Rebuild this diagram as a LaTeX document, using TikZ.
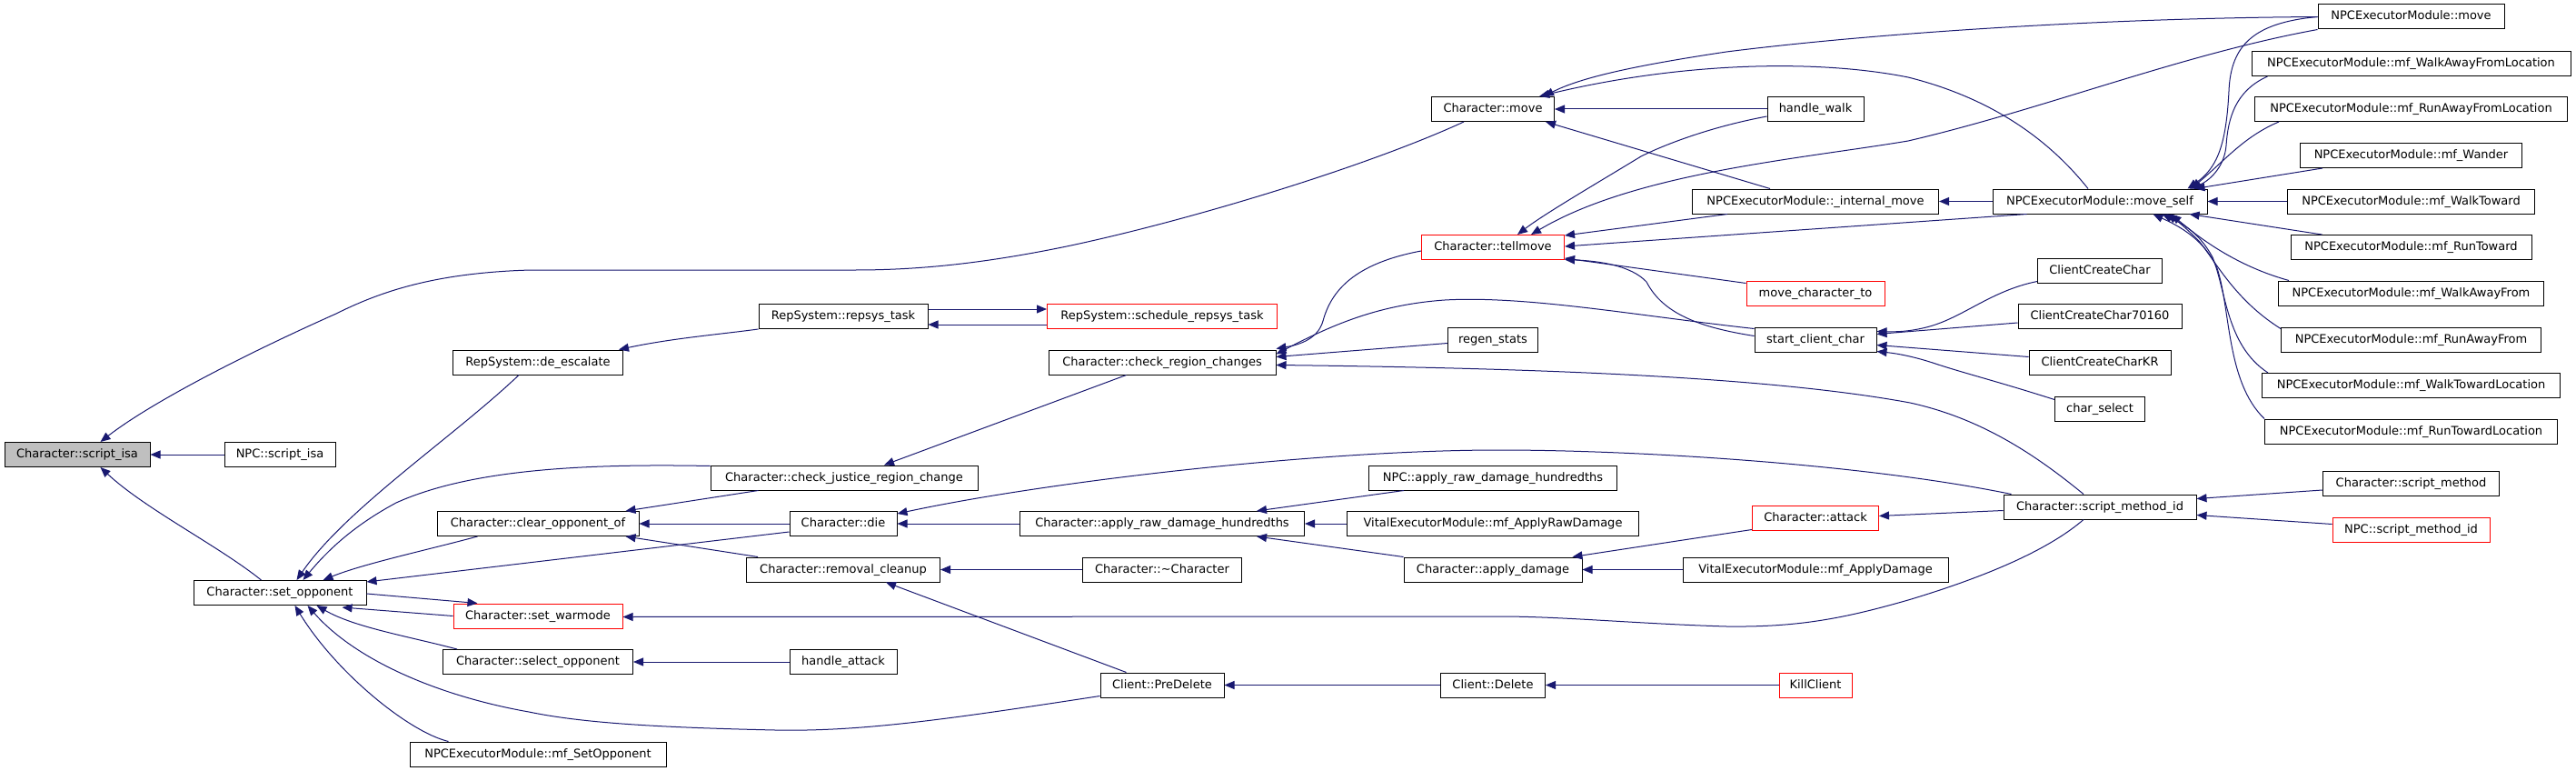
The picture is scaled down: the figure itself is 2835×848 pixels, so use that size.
\documentclass[tikz,border=0pt]{standalone}
\usepackage{fontspec}
\setmainfont{DejaVu Sans}
\usetikzlibrary{arrows.meta,calc}
\definecolor{mblue}{HTML}{191970}
\definecolor{nred}{HTML}{FF0000}
\definecolor{ngray}{HTML}{BFBFBF}
\begin{document}
\begin{tikzpicture}[x=1pt,y=-1pt,
  box/.style={draw=black, line width=1pt, inner sep=0pt, minimum height=27pt,
    text height=9.5pt, text depth=2.5pt, fill=white,
    font=\fontsize{13pt}{15pt}\selectfont},
  redbox/.style={box, draw=nred},
  e/.style={draw=mblue, line width=1pt, -{Triangle[length=11pt,width=9pt]}}]
\useasboundingbox (0,0) rectangle (2835,848);
% column 0/1
\node[box, minimum width=160pt, fill=ngray] (sisa) at (85,500) {Character::script\_isa};
\node[box, minimum width=122pt] (npcisa) at (308,500) {NPC::script\_isa};
\node[box, minimum width=190pt] (setopp) at (308,652) {Character::set\_opponent};
% column 2
\node[box, minimum width=187pt] (deesc) at (592,398.5) {RepSystem::de\_escalate};
\node[box, minimum width=222pt] (cleropp) at (592,576) {Character::clear\_opponent\_of};
\node[redbox, minimum width=186pt] (setwar) at (592,677.5) {Character::set\_warmode};
\node[box, minimum width=209pt] (selopp) at (592,728) {Character::select\_opponent};
\node[box, minimum width=282pt] (mfsetopp) at (592,829.5) {NPCExecutorModule::mf\_SetOpponent};
% column 3
\node[box, minimum width=186pt] (repsys) at (928,348) {RepSystem::repsys\_task};
\node[box, minimum width=294pt] (cjrc) at (929,525.5) {Character::check\_justice\_region\_change};
\node[box, minimum width=118pt] (die) at (928,576) {Character::die};
\node[box, minimum width=213pt] (remclean) at (928,626.5) {Character::removal\_cleanup};
\node[box, minimum width=118pt] (hattack) at (928,728) {handle\_attack};
% column 4
\node[redbox, minimum width=253pt] (schedule) at (1279,348) {RepSystem::schedule\_repsys\_task};
\node[box, minimum width=250pt] (crc) at (1279,398.5) {Character::check\_region\_changes};
\node[box, minimum width=313pt] (ardh) at (1279,576) {Character::apply\_raw\_damage\_hundredths};
\node[box, minimum width=175pt] (dtor) at (1279,626.5) {Character::\textasciitilde Character};
\node[box, minimum width=136pt] (predel) at (1279,753.5) {Client::PreDelete};
% column 5
\node[box, minimum width=135pt] (cmove) at (1643,120) {Character::move};
\node[redbox, minimum width=157pt] (tellmove) at (1643,272) {Character::tellmove};
\node[box, minimum width=99pt] (regen) at (1643,373.5) {regen\_stats};
\node[box, minimum width=273pt] (npcardh) at (1643,525.5) {NPC::apply\_raw\_damage\_hundredths};
\node[box, minimum width=321pt] (vardmg) at (1643,576) {VitalExecutorModule::mf\_ApplyRawDamage};
\node[box, minimum width=196pt] (applydmg) at (1643,626.5) {Character::apply\_damage};
\node[box, minimum width=115pt] (cdelete) at (1643,753.5) {Client::Delete};
% column 6
\node[box, minimum width=106pt] (hwalk) at (1998,120) {handle\_walk};
\node[box, minimum width=271pt] (imove) at (1998,221.5) {NPCExecutorModule::\_internal\_move};
\node[redbox, minimum width=152pt] (mcto) at (1998,322.5) {move\_character\_to};
\node[box, minimum width=134pt] (scc) at (1998,373.5) {start\_client\_char};
\node[redbox, minimum width=139pt] (attack) at (1998,569.5) {Character::attack};
\node[box, minimum width=292pt] (vadmg) at (1998,626.5) {VitalExecutorModule::mf\_ApplyDamage};
\node[redbox, minimum width=80pt] (killc) at (1998,753.5) {KillClient};
% column 7
\node[box, minimum width=236pt] (moveself) at (2311,221.5) {NPCExecutorModule::move\_self};
\node[box, minimum width=137pt] (ccc) at (2311,297.5) {ClientCreateChar};
\node[box, minimum width=180pt] (ccc7) at (2311,348) {ClientCreateChar70160};
\node[box, minimum width=156pt] (ccckr) at (2311,398.5) {ClientCreateCharKR};
\node[box, minimum width=99pt] (charsel) at (2311,449.5) {char\_select};
\node[box, minimum width=212pt] (smid) at (2311,557.5) {Character::script\_method\_id};
% column 8
\node[box, minimum width=205pt] (npcmove) at (2653.5,18.5) {NPCExecutorModule::move};
\node[box, minimum width=351pt] (wafl) at (2653.5,70) {NPCExecutorModule::mf\_WalkAwayFromLocation};
\node[box, minimum width=344pt] (rafl) at (2653.5,120) {NPCExecutorModule::mf\_RunAwayFromLocation};
\node[box, minimum width=244pt] (wander) at (2653.5,171) {NPCExecutorModule::mf\_Wander};
\node[box, minimum width=272pt] (wtow) at (2653.5,221.5) {NPCExecutorModule::mf\_WalkToward};
\node[box, minimum width=265pt] (rtow) at (2653.5,272) {NPCExecutorModule::mf\_RunToward};
\node[box, minimum width=292pt] (waf) at (2653.5,322.5) {NPCExecutorModule::mf\_WalkAwayFrom};
\node[box, minimum width=286pt] (raf) at (2653.5,373.5) {NPCExecutorModule::mf\_RunAwayFrom};
\node[box, minimum width=328pt] (wtl) at (2653.5,424) {NPCExecutorModule::mf\_WalkTowardLocation};
\node[box, minimum width=322pt] (rtl) at (2653.5,474.5) {NPCExecutorModule::mf\_RunTowardLocation};
\node[box, minimum width=194pt] (smeth) at (2653.5,532) {Character::script\_method};
\node[redbox, minimum width=173pt] (npcsmid) at (2653.5,582.5) {NPC::script\_method\_id};

% ---------- edges (caller -> callee) ----------
\draw[e] ($(cmove.south west)+(36,0)$) .. controls (1500,185) and (1300,245) .. (1169,272)
  .. controls (1080,290) and (1010,297) .. (941,297) -- (584,297)
  .. controls (480,300) and (420,320) .. (370,345)
  .. controls (280,385) and (170,440) .. ($(sisa.north west)+(106,0)$);
\draw[e] (npcisa.west) -- (sisa.east);
\draw[e] ($(setopp.north west)+(75,0)$) .. controls (240,600) and (160,560) .. ($(sisa.south west)+(106,0)$);
\draw[e] ($(deesc.south west)+(73,0)$) .. controls (500,480) and (380,560) .. ($(setopp.north west)+(114,0)$);
\draw[e] ($(cjrc.north west)+(0,1)$) .. controls (650,510) and (520,515) .. (436,553)
  .. controls (395,575) and (365,600) .. ($(setopp.north west)+(121,0)$);
\draw[e] ($(cleropp.south west)+(45,0)$) .. controls (470,605) and (400,620) .. ($(setopp.north west)+(143,0)$);
\draw[e] ($(die.west)+(0,9)$) -- ($(setopp.north east)+(0,2)$);
\draw[e] ($(setopp.east)+(0,1)$) -- ($(setwar.north west)+(27,0)$);
\draw[e] (setwar.west) -- ($(setopp.south east)+(-27,2)$);
\draw[e] ($(selopp.north west)+(16,0)$) .. controls (450,700) and (390,690) .. ($(setopp.south west)+(136,0)$);
\draw[e] ($(predel.south west)+(0,-2)$) .. controls (1050,790) and (950,805) .. (853,803)
  .. controls (720,800) and (640,795) .. (582,783)
  .. controls (480,765) and (390,725) .. ($(setopp.south west)+(126,0)$);
\draw[e] ($(mfsetopp.north west)+(43,0)$) .. controls (450,805) and (370,740) .. ($(setopp.south west)+(112,0)$);
\draw[e] ($(cjrc.south west)+(53,0)$) -- ($(cleropp.north east)+(-15,0)$);
\draw[e] (die.west) -- (cleropp.east);
\draw[e] ($(remclean.north west)+(13,0)$) -- ($(cleropp.south east)+(-15,0)$);
\draw[e] (repsys.south west) .. controls (790,368) and (740,372) .. ($(deesc.north east)+(-5,0)$);
\draw[e] ($(repsys.east)+(0,-8)$) -- ($(schedule.west)+(0,-8)$);
\draw[e] ($(schedule.west)+(0,9)$) -- ($(repsys.east)+(0,9)$);
\draw[e] ($(crc.south west)+(86,0)$) -- ($(cjrc.north)+(44,0)$);
\draw[e] ($(tellmove.west)+(0,4)$) .. controls (1490,290) and (1465,320) .. (1456,353)
  .. controls (1450,375) and (1425,380) .. ($(crc.north east)+(0,-1)$);
\draw[e] ($(scc.west)+(0,-12)$) .. controls (1800,347) and (1680,325) .. (1590,330)
  .. controls (1520,335) and (1470,355) .. ($(crc.east)+(0,-9)$);
\draw[e] ($(regen.west)+(0,4)$) -- ($(crc.east)+(0,-6)$);
\draw[e] ($(smid.north)+(-18,0)$) .. controls (2240,500) and (2180,460) .. (2102,443)
  .. controls (1950,415) and (1700,405) .. ($(crc.east)+(0,3)$);
\draw[e] (ardh.west) -- (die.east);
\draw[e] ($(smid.north west)+(9,0)$) .. controls (2050,510) and (1800,495) .. (1650,495)
  .. controls (1450,495) and (1150,530) .. ($(die.north east)+(0,3)$);
\draw[e] ($(npcardh.south west)+(39,0)$) -- ($(ardh.north east)+(-53,0)$);
\draw[e] (vardmg.west) -- (ardh.east);
\draw[e] (applydmg.north west) -- ($(ardh.south east)+(-53,0)$);
\draw[e] (dtor.west) -- (remclean.east);
\draw[e] ($(predel.north west)+(29,0)$) -- ($(remclean.south)+(47,0)$);
\draw[e] ($(smid.south)+(-18,0)$) .. controls (2260,600) and (2200,630) .. (2100,660)
  .. controls (2030,680) and (1980,690) .. (1900,689)
  .. controls (1800,686) and (1720,678) .. (1650,678) -- ($(setwar.east)+(0,1)$);
\draw[e] (hattack.west) -- (selopp.east);
\draw[e] (cdelete.west) -- (predel.east);
\draw[e] (killc.west) -- (cdelete.east);
\draw[e] ($(attack.south west)+(0,-1)$) -- ($(applydmg.north east)+(-11,0)$);
\draw[e] (vadmg.west) -- (applydmg.east);
\draw[e] ($(smid.west)+(0,4)$) -- ($(attack.east)+(0,-2)$);
\draw[e] ($(smeth.west)+(0,7)$) -- ($(smid.east)+(0,-9)$);
\draw[e] ($(npcsmid.west)+(0,-6)$) -- ($(smid.east)+(0,9)$);
% top part
\draw[e] (npcmove.west) .. controls (2300,20) and (2050,38) .. (1900,57)
  .. controls (1800,72) and (1740,85) .. ($(cmove.north east)+(-12,0)$);
\draw[e] ($(moveself.north)+(-13,0)$) .. controls (2260,160) and (2200,110) .. (2100,85)
  .. controls (2000,65) and (1850,68) .. ($(cmove.north east)+(-17,0)$);
\draw[e] (hwalk.west) -- (cmove.east);
\draw[e] ($(imove.north west)+(86,0)$) -- ($(cmove.south east)+(-10,0)$);
\draw[e] (npcmove.south west) .. controls (2400,60) and (2250,120) .. (2100,155)
  .. controls (1980,175) and (1800,190) .. ($(tellmove.north east)+(-37,0)$);
\draw[e] ($(hwalk.west)+(0,8)$) .. controls (1880,140) and (1830,160) .. (1806,172)
  .. controls (1760,200) and (1700,235) .. ($(tellmove.north east)+(-52,0)$);
\draw[e] ($(imove.south west)+(39,0)$) -- ($(tellmove.north east)+(0,1)$);
\draw[e] ($(moveself.south west)+(38,0)$) -- ($(tellmove.east)+(0,-1)$);
\draw[e] ($(mcto.north west)+(0,3)$) -- ($(tellmove.south east)+(0,-2)$);
\draw[e] ($(scc.west)+(0,-4)$) .. controls (1870,360) and (1830,345) .. (1812,310)
  .. controls (1795,292) and (1760,287) .. ($(tellmove.south east)+(0,-0.5)$);
\draw[e] (moveself.west) -- (imove.east);
% callers of move_self
\draw[e] (npcmove.west) .. controls (2480,25) and (2455,50) .. (2453,100)
  .. controls (2450,160) and (2440,185) .. ($(moveself.north east)+(-22,0)$);
\draw[e] ($(wafl.south west)+(18,0)$) .. controls (2460,100) and (2452,130) .. (2450,160)
  .. controls (2448,185) and (2430,200) .. ($(moveself.north east)+(-20,0)$);
\draw[e] ($(rafl.south west)+(27,0)$) .. controls (2470,150) and (2450,175) .. ($(moveself.north east)+(-18,0)$);
\draw[e] ($(wander.south west)+(25,0)$) -- ($(moveself.north east)+(-14,0)$);
\draw[e] (wtow.west) -- (moveself.east);
\draw[e] ($(rtow.north west)+(35,0)$) -- ($(moveself.south east)+(-20,0)$);
\draw[e] ($(waf.north west)+(12,0)$) .. controls (2470,295) and (2430,270) .. ($(moveself.south east)+(-40,0)$);
\draw[e] ($(raf.north west)+(0,2)$) .. controls (2460,330) and (2440,290) .. (2420,265)
  .. controls (2405,250) and (2395,242) .. ($(moveself.south east)+(-45,0)$);
\draw[e] ($(wtl.north west)+(7,0)$) .. controls (2450,380) and (2450,320) .. (2435,283)
  .. controls (2420,255) and (2400,245) .. ($(moveself.south east)+(-50,0)$);
\draw[e] (rtl.north west) .. controls (2450,420) and (2455,340) .. (2440,295)
  .. controls (2425,260) and (2390,245) .. ($(moveself.south east)+(-60,0)$);
% callers of start_client_char
\draw[e] ($(ccc.west)+(0,12)$) .. controls (2190,320) and (2160,350) .. (2120,360)
  .. controls (2100,365) and (2085,365) .. ($(scc.east)+(0,-9)$);
\draw[e] ($(ccc7.west)+(0,7)$) -- ($(scc.east)+(0,-6)$);
\draw[e] ($(ccckr.west)+(0,-6)$) -- ($(scc.east)+(0,6)$);
\draw[e] ($(charsel.west)+(0,-10)$) .. controls (2200,420) and (2160,410) .. (2130,400)
  .. controls (2100,390) and (2080,388) .. ($(scc.south east)+(0,-1)$);
\end{tikzpicture}
\end{document}
